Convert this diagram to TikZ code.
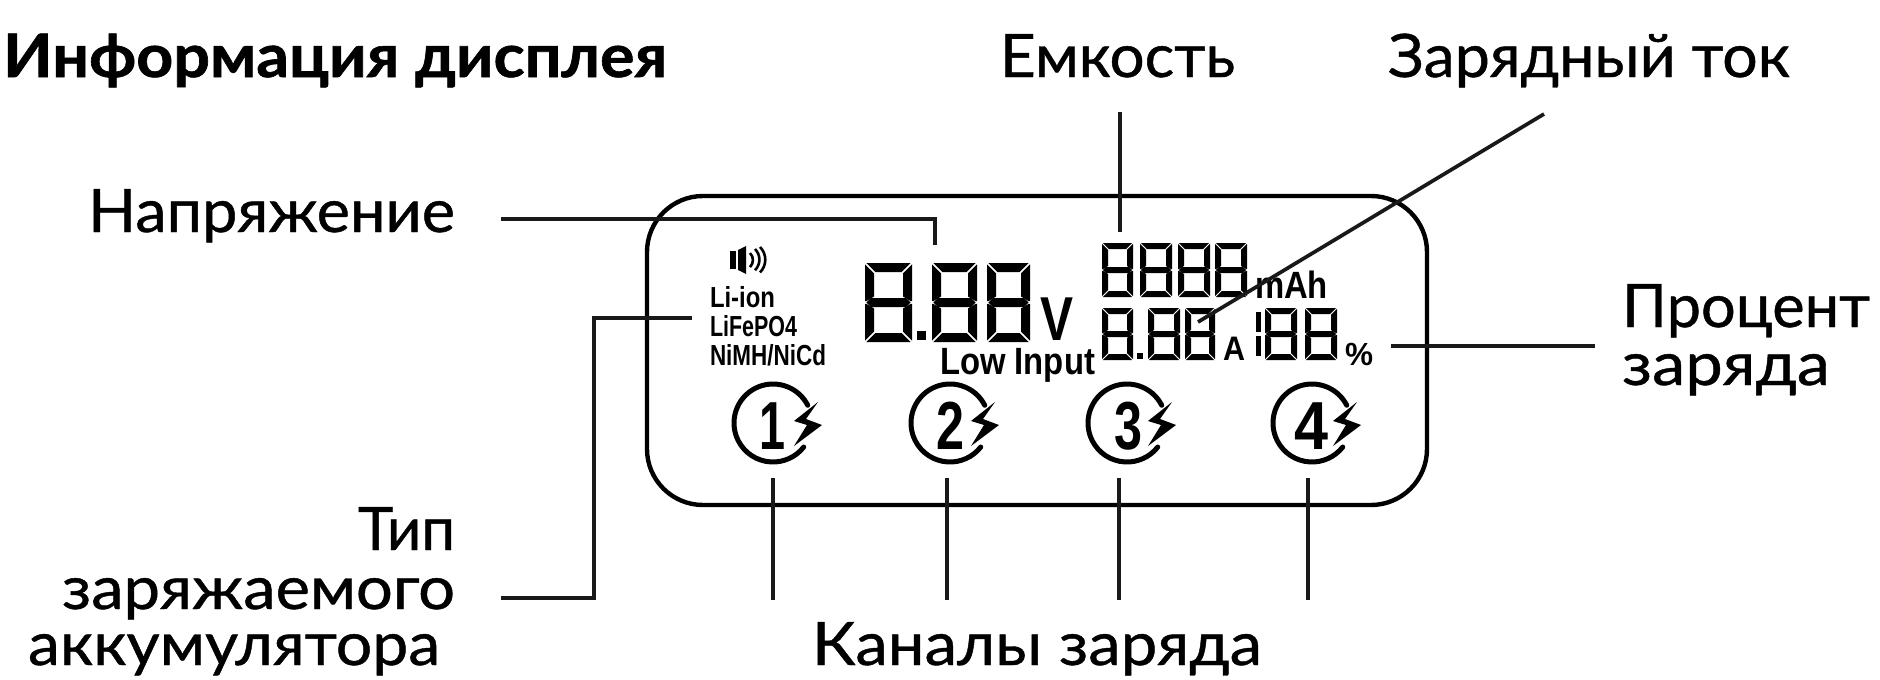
\documentclass[tikz,border=0pt]{standalone}
\usepackage{graphicx}
\usepackage{fontspec}
\setmainfont[FakeBold=0.7,BoldFont={Lato Bold},BoldFeatures={FakeBold=1.0}]{Lato}
\newfontfamily\narrowf{Liberation Sans}
\newsavebox\fitbox
\newcommand{\fitw}[2]{\sbox\fitbox{#2}\pgfmathsetmacro\fitf{#1/\the\wd\fitbox}\scalebox{\fitf}[1]{\usebox\fitbox}}
\newcommand{\bigtxt}{\fontsize{60}{60}\selectfont}
\newcommand{\lbl}[5]{\node[txt] (#1) at (#2,#3) {\fitw{#4}{\bigtxt #5}};}
\newcommand{\nar}[6]{\node[txt] (#1) at (#2,#3) {\fitw{#4}{\narrowf\bfseries\fontsize{#5}{#5}\selectfont #6}};}
% seven segment digit: x1 y1 x2 y2 thickness
\newcommand{\sevenseg}[5]{%
 \pgfmathsetmacro\ga{#5*0.16}\pgfmathsetmacro\ym{(#2+#4)/2}\pgfmathsetmacro\th{#5}%
 \pgfmathsetmacro\hf{#5/2}%
 \fill (#1+\ga,#2)--(#3-\ga,#2)--(#3-\ga-\th,#2+\th)--(#1+\ga+\th,#2+\th)--cycle;
 \fill (#1+\ga,#4)--(#3-\ga,#4)--(#3-\ga-\th,#4-\th)--(#1+\ga+\th,#4-\th)--cycle;
 \fill (#1+\ga,\ym)--(#1+\ga+\hf,\ym-\hf)--(#3-\ga-\hf,\ym-\hf)--(#3-\ga,\ym)--(#3-\ga-\hf,\ym+\hf)--(#1+\ga+\hf,\ym+\hf)--cycle;
 \fill (#1,#2+\ga)--(#1+\th,#2+\ga+\th)--(#1+\th,\ym-\hf-\ga)--(#1+\ga,\ym-\ga)--(#1,\ym-\ga)--cycle;
 \fill (#1,#4-\ga)--(#1+\th,#4-\ga-\th)--(#1+\th,\ym+\hf+\ga)--(#1+\ga,\ym+\ga)--(#1,\ym+\ga)--cycle;
 \fill (#3,#2+\ga)--(#3-\th,#2+\ga+\th)--(#3-\th,\ym-\hf-\ga)--(#3-\ga,\ym-\ga)--(#3,\ym-\ga)--cycle;
 \fill (#3,#4-\ga)--(#3-\th,#4-\ga-\th)--(#3-\th,\ym+\hf+\ga)--(#3-\ga,\ym+\ga)--(#3,\ym+\ga)--cycle;
}
% charge channel icon: name cx digit width digitcx
\newcommand{\chan}[5]{%
 \draw[line width=5pt,line cap=round] ({#2+39*cos(27)},{423-39*sin(27)}) arc[start angle=-27,end angle=-322,radius=39];
 \fill (#2+45,402)--(#2+21,421)--(#2+34,425)--(#2+21,446)--(#2+49,425)--(#2+33,419)--cycle;
 \node[txt] (#1) at (#5,449) {\fitw{#4}{\narrowf\bfseries\fontsize{68}{68}\selectfont #3}};
}
\tikzset{
 txt/.style={inner sep=0pt,outer sep=0pt,anchor=base west},
 leader/.style={line width=3.7pt,line join=miter,color=black!90},
}
\begin{document}
\begin{tikzpicture}[x=1pt,y=-1pt]
\useasboundingbox (0,0) rectangle (1880,680);
\fill[white] (0,0) rectangle (1880,680);
% titles and labels
\node[txt] (title) at (3,77) {\fitw{664}{\bigtxt\bfseries Информация дисплея}};
\lbl{cap}{1000}{77}{235}{Емкость}
\lbl{cur}{1388}{77}{402}{Зарядный ток}
\lbl{volt}{88}{232}{367}{Напряжение}
\lbl{pct}{1622}{327}{248}{Процент}
\lbl{pctb}{1622}{385}{208}{заряда}
\lbl{typea}{358}{550}{97}{Тип}
\lbl{typeb}{62}{609}{393}{заряжаемого}
\lbl{typec}{28}{665}{412}{аккумулятора}
\lbl{chans}{812}{665}{450}{Каналы заряда}
% display
\draw[line width=4.4pt,rounded corners=56pt] (647,196) rectangle (1427,505);
% speaker
\fill (730,251) rectangle (736,269);
\fill (738,250)--(746,246)--(746,274)--(738,270)--cycle;
\draw[line width=2.6pt] (750,253) arc[start angle=-45,end angle=45,radius=10];
\draw[line width=2.6pt] (755,249) arc[start angle=-45,end angle=45,radius=15];
\draw[line width=2.6pt] (760,247) arc[start angle=-45,end angle=45,radius=18];
\nar{liion}{710}{307}{65}{29}{Li-ion}
\nar{lifepo}{710}{336}{87}{29}{LiFePO4}
\nar{nimh}{710}{365}{116}{29}{NiMH/NiCd}
\sevenseg{865}{263}{912}{342}{9}
\fill (917,331) rectangle (926,340);
\sevenseg{932}{263}{977}{342}{9}
\sevenseg{987}{263}{1030}{342}{9}
\node[txt] (vunit) at (1040,340) {\fitw{33}{\narrowf\bfseries\fontsize{62}{62}\selectfont V}};
\nar{low}{940}{374}{155}{38}{Low Input}
\sevenseg{1102}{243}{1133}{297}{6}
\sevenseg{1140}{243}{1172}{297}{6}
\sevenseg{1178}{243}{1210}{297}{6}
\sevenseg{1215}{243}{1247}{297}{6}
\nar{mah}{1255}{298}{73}{38}{mAh}
\sevenseg{1102}{308}{1133}{360}{6}
\fill (1137,353) rectangle (1143,359);
\sevenseg{1148}{308}{1180}{360}{6}
\sevenseg{1185}{308}{1215}{360}{6}
\nar{amp}{1223}{360}{22}{34}{A}
\fill (1256,312) rectangle (1261,332);
\fill (1256,336) rectangle (1261,356);
\sevenseg{1265}{308}{1297}{360}{6}
\sevenseg{1305}{308}{1337}{360}{6}
\nar{perc}{1345}{365}{28}{32}{\%}
% channels
\chan{one}{773}{1}{26}{759}
\chan{two}{950}{2}{28}{936}
\chan{three}{1127}{3}{28}{1114}
\chan{four}{1312}{4}{34}{1294}
% leaders
\coordinate (capa) at (1120,112); \coordinate (capb) at (1120,232);
\coordinate (cura) at (1544,114); \coordinate (curb) at (1198,322);
\coordinate (volta) at (501,219); \coordinate (voltm) at (935,219); \coordinate (voltb) at (935,245);
\coordinate (ta) at (501,598); \coordinate (tm) at (594,598); \coordinate (tn) at (594,318); \coordinate (tb) at (692,318);
\coordinate (pa) at (1391,346); \coordinate (pb) at (1595,346);
\coordinate (c1a) at (773,478); \coordinate (c1b) at (773,600);
\coordinate (c2a) at (947,478); \coordinate (c2b) at (947,600);
\coordinate (c3a) at (1119,478); \coordinate (c3b) at (1119,600);
\coordinate (c4a) at (1308,478); \coordinate (c4b) at (1308,600);
\draw[leader] (capa)--(capb);
\draw[leader] (cura)--(curb);
\draw[leader] (volta)--(voltm)--(voltb);
\draw[leader] (ta)--(tm)--(tn)--(tb);
\draw[leader] (pa)--(pb);
\draw[leader] (c1a)--(c1b);
\draw[leader] (c2a)--(c2b);
\draw[leader] (c3a)--(c3b);
\draw[leader] (c4a)--(c4b);
\end{tikzpicture}
\end{document}
